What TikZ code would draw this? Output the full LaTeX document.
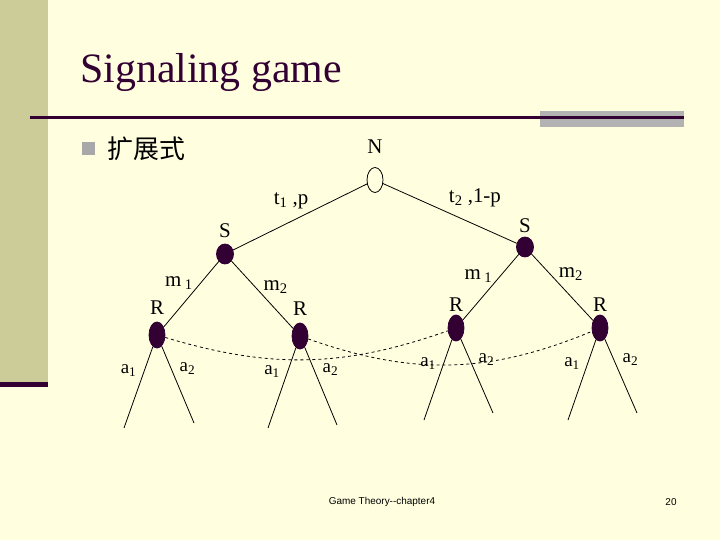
\documentclass[tikz,border=0pt]{standalone}
\usepackage{fontspec}
\setmainfont{Liberation Serif}
\setsansfont{Liberation Sans}
\newfontfamily\cjk{Noto Sans CJK SC}
\usepackage{tikz}
\usetikzlibrary{positioning,shapes.geometric}
\definecolor{slidebg}{RGB}{255,255,224}
\definecolor{stripe}{RGB}{204,204,153}
\definecolor{plum}{RGB}{51,0,51}
\definecolor{bargrey}{RGB}{178,178,178}
\definecolor{dotgrey}{RGB}{168,168,168}

\begin{document}
\begin{tikzpicture}[x=1bp,y=-1bp,line width=0.8bp,on grid,auto]
      \tikzset{nature/.style={draw,ellipse,fill=slidebg,minimum width=16bp,minimum height=25bp,inner sep=0pt},
        sender/.style={draw=plum,fill=plum,ellipse,minimum width=17bp,minimum height=20bp,inner sep=0pt},
        receiver/.style={sender,minimum width=16bp,minimum height=26bp},
        lbl/.style={font=\fontsize{21}{21}\selectfont,inner sep=1bp},
        act/.style={font=\fontsize{19}{19}\selectfont,inner sep=4bp,pos=0.42},
        foot/.style={font=\sffamily\fontsize{10}{10}\selectfont,inner sep=0pt}}

      % slide
      \useasboundingbox (0,0) rectangle (720,540);
      \fill[slidebg] (0,0) rectangle (720,540);
      \fill[stripe] (0,0) rectangle (48,382);
      \fill[plum] (0,382) rectangle (48,387);
      \fill[bargrey] (540,111) rectangle (684,127);
      \fill[plum] (30,116) rectangle (684,119.5);
      \fill[dotgrey] (82,142) rectangle (95,155);
      \node[anchor=base west,text=plum,inner sep=0pt,font=\fontsize{42}{42}\selectfont] (title) at (80,83) {Signaling game};
      \node[anchor=west,inner sep=0pt,font=\cjk\fontsize{26}{26}\selectfont] (head) at (107,149) {扩展式};
      \node[foot] (chap) at (382,502) {Game Theory{-}{-}chapter4};
      \node[foot] (page) at (671,502) {20};

      % game tree
      \node[nature,label={[lbl,label distance=12bp]above:N}] (n) at (375,180) {};
      \node[sender,label={[lbl,label distance=4bp]above:S}] (s1) [below left = 74bp and 150bp of n] {};
      \node[sender,label={[lbl,label distance=2bp]above:S}] (s2) [below right = 67bp and 150bp of n] {};
      \node[receiver,label={[lbl,label distance=6bp]above:R}] (r1) [below left = 81bp and 68bp of s1] {};
      \node[receiver,label={[lbl,label distance=6bp]above:R}] (r2) [below right = 82bp and 75bp of s1] {};
      \node[receiver,label={[lbl,label distance=2bp]above:R}] (r3) [below left = 81bp and 69bp of s2] {};
      \node[receiver,label={[lbl,label distance=2bp]above:R}] (r4) [below right = 81bp and 75bp of s2] {};

      \coordinate [below left = 93bp and 33bp of r1] (r1a);
      \coordinate [below right = 88bp and 37bp of r1] (r1b);
      \coordinate [below left = 92bp and 32bp of r2] (r2a);
      \coordinate [below right = 89bp and 37bp of r2] (r2b);
      \coordinate [below left = 92bp and 32bp of r3] (r3a);
      \coordinate [below right = 85bp and 37bp of r3] (r3b);
      \coordinate [below left = 92bp and 32bp of r4] (r4a);
      \coordinate [below right = 85bp and 37bp of r4] (r4b);

      \path
      (n)
      edge [swap] node [lbl,pos=0.42,inner sep=2bp] {t\textsubscript{1} ,p} (s1)
      edge [] node [lbl,pos=0.46,inner sep=4bp] {t\textsubscript{2} ,1-p} (s2)
      (s1)
      edge [swap] node [lbl,pos=0.45] {m\,\textsubscript{1}} (r1)
      edge [] node [lbl] {m\textsubscript{2}} (r2)
      (s2)
      edge [swap] node [lbl,pos=0.45] {m\,\textsubscript{1}} (r3)
      edge [] node [lbl,pos=0.42] {m\textsubscript{2}} (r4)
      (r1)
      edge [swap] node [act] {a\textsubscript{1}} (r1a)
      edge [] node [act] {a\textsubscript{2}} (r1b)
      edge [dashed,bend right = 18] (r3)
      (r2)
      edge [swap] node [act] {a\textsubscript{1}} (r2a)
      edge [] node [act] {a\textsubscript{2}} (r2b)
      edge [dashed,bend right = 21] (r4)
      (r3)
      edge [swap] node [act] {a\textsubscript{1}} (r3a)
      edge [] node [act] {a\textsubscript{2}} (r3b)
      (r4)
      edge [swap] node [act] {a\textsubscript{1}} (r4a)
      edge [] node [act] {a\textsubscript{2}} (r4b)
      ;
    \end{tikzpicture}
\end{document}
